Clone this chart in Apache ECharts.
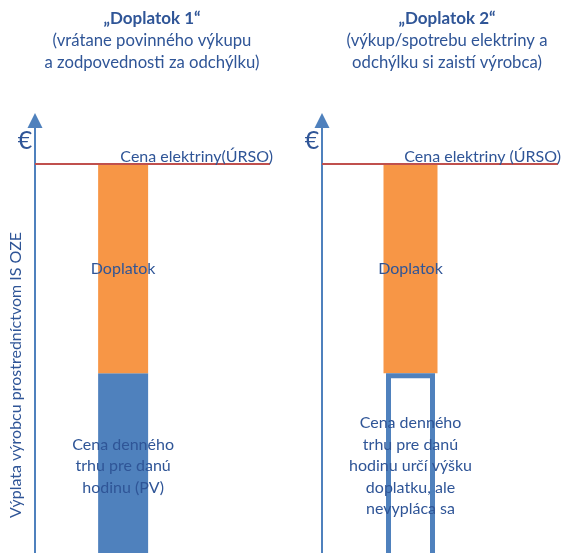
<!DOCTYPE html>
<html>
<head>
<meta charset="utf-8">
<script src="https://cdn.jsdelivr.net/npm/echarts@6/dist/echarts.min.js"></script>
<style>
  html, body { margin: 0; padding: 0; background: #ffffff; }
  #chart { width: 565px; height: 553px; }
</style>
</head>
<body>
<div id="chart"></div>
<script>
// Hidden category slots of each panel; the bar sits in the second slot
const slots = ['', 'hodina', '', ''];

// Values in €/MWh-like units (schematic): regulated price and day-ahead market price
const ursoPrice = [100, 100];        // Cena elektriny (ÚRSO), panel 1 and 2
const marketPrice = [47, 47];        // Cena denného trhu pre danú hodinu
const surcharge = [53, 53];          // Doplatok (ÚRSO price above the market price)

const panelTitles = ['„Doplatok 1“', '„Doplatok 2“'];
const panelSubtitles = [
  '(vrátane povinného výkupu\na zodpovednosti za odchýlku)',
  '(výkup/spotrebu elektriny a\nodchýlku si zaistí výrobca)'
];
const ursoLabels = ['Cena elektriny(ÚRSO)', 'Cena elektriny (ÚRSO)'];
const marketLabels = [
  'Cena denného\ntrhu pre danú\nhodinu (PV)',
  'Cena denného\ntrhu pre danú\nhodinu určí výšku\ndoplatku, ale\nnevypláca sa'
];
const surchargeLabel = 'Doplatok';
const axisName = 'Výplata výrobcu prostredníctvom IS OZE';
const currency = '€';

const FONT = 'Lato';
const TEXT = '#2f5597';
const BLUE = '#4f81bd';
const ORANGE = '#f79646';
const RED = '#c0504d';
const yMax = 111;

function slotData(v) { return slots.map((s, i) => (i === 1 ? v : null)); }

const chart = echarts.init(document.getElementById('chart'), null, { renderer: 'canvas' });

const yAxisCommon = {
  type: 'value', min: 0, max: yMax,
  axisLine: {
    show: true, symbol: ['none', 'triangle'], symbolSize: [15, 15],
    lineStyle: { color: BLUE, width: 2 }
  },
  axisTick: { show: false }, axisLabel: { show: false }, splitLine: { show: false }
};

const xAxisCommon = { type: 'category', data: slots, show: false };

const ursoMarkLine = (i) => ({
  silent: true, symbol: 'none',
  lineStyle: { color: RED, width: 2, type: 'solid' },
  label: {
    position: 'insideEndTop', formatter: ursoLabels[i],
    color: TEXT, fontFamily: FONT, fontSize: 16, distance: [-3, -1]
  },
  data: [{ yAxis: ursoPrice[i] }]
});

const labelStyle = { color: TEXT, fontFamily: FONT, fontSize: 16, lineHeight: 21.5 };

// The value axes run a few pixels past the bottom edge so the bars look cut off there
const gridCommon = { top: 120.5, height: 438.5, outerBoundsMode: 'none', containLabel: false };

const option = {
  animation: false,
  textStyle: { fontFamily: FONT },
  title: panelTitles.map((t, i) => ({
    text: t, subtext: panelSubtitles[i],
    left: i === 0 ? 152 : 447, top: 8, textAlign: 'center', padding: 0, itemGap: 0,
    textStyle: { color: TEXT, fontFamily: FONT, fontSize: 17, fontWeight: 'bold', lineHeight: 22 },
    subtextStyle: { color: TEXT, fontFamily: FONT, fontSize: 16.7, lineHeight: 22 }
  })),
  grid: [
    Object.assign({ left: 35, width: 235 }, gridCommon),
    Object.assign({ left: 322, width: 236 }, gridCommon)
  ],
  xAxis: [
    Object.assign({ gridIndex: 0 }, xAxisCommon),
    Object.assign({ gridIndex: 1 }, xAxisCommon),
    Object.assign({ gridIndex: 1 }, xAxisCommon)
  ],
  yAxis: [
    Object.assign({ gridIndex: 0 }, yAxisCommon),
    Object.assign({ gridIndex: 1 }, yAxisCommon)
  ],
  graphic: [
    { type: 'text', x: 25, y: 141, style: { text: currency, fill: TEXT, font: '25px ' + FONT, align: 'center', verticalAlign: 'middle' } },
    { type: 'text', x: 312, y: 141, style: { text: currency, fill: TEXT, font: '25px ' + FONT, align: 'center', verticalAlign: 'middle' } },
    {
      type: 'text', x: 16, y: 375, rotation: Math.PI / 2,
      style: { text: axisName, fill: TEXT, font: '16px ' + FONT, align: 'center', verticalAlign: 'middle' }
    }
  ],
  series: [
    {
      name: 'Cena denného trhu', type: 'bar', xAxisIndex: 0, yAxisIndex: 0, stack: 'p1',
      barWidth: 50, data: slotData(marketPrice[0]),
      itemStyle: { color: BLUE },
      label: Object.assign({ show: true, position: 'inside', formatter: marketLabels[0] }, labelStyle)
    },
    {
      name: 'Doplatok', type: 'bar', xAxisIndex: 0, yAxisIndex: 0, stack: 'p1',
      barWidth: 50, data: slotData(surcharge[0]),
      itemStyle: { color: ORANGE },
      label: Object.assign({ show: true, position: 'inside', formatter: surchargeLabel }, labelStyle),
      markLine: ursoMarkLine(0)
    },
    {
      name: 'Cena denného trhu (základ)', type: 'bar', xAxisIndex: 1, yAxisIndex: 1, stack: 'p2',
      barWidth: 54, data: slotData(marketPrice[1]), silent: true,
      itemStyle: { color: 'rgba(0,0,0,0)' }
    },
    {
      name: 'Doplatok', type: 'bar', xAxisIndex: 1, yAxisIndex: 1, stack: 'p2',
      barWidth: 54, data: slotData(surcharge[1]),
      itemStyle: { color: ORANGE },
      label: Object.assign({ show: true, position: 'inside', formatter: surchargeLabel }, labelStyle),
      markLine: ursoMarkLine(1)
    },
    {
      name: 'Cena denného trhu', type: 'bar', xAxisIndex: 2, yAxisIndex: 1,
      barWidth: 49, data: slotData(marketPrice[1]),
      itemStyle: { color: 'rgba(255,255,255,0)', borderColor: BLUE, borderWidth: 5 },
      label: Object.assign({ show: true, position: 'inside', formatter: marketLabels[1] }, labelStyle)
    }
  ]
};

chart.setOption(option);
</script>
</body>
</html>
